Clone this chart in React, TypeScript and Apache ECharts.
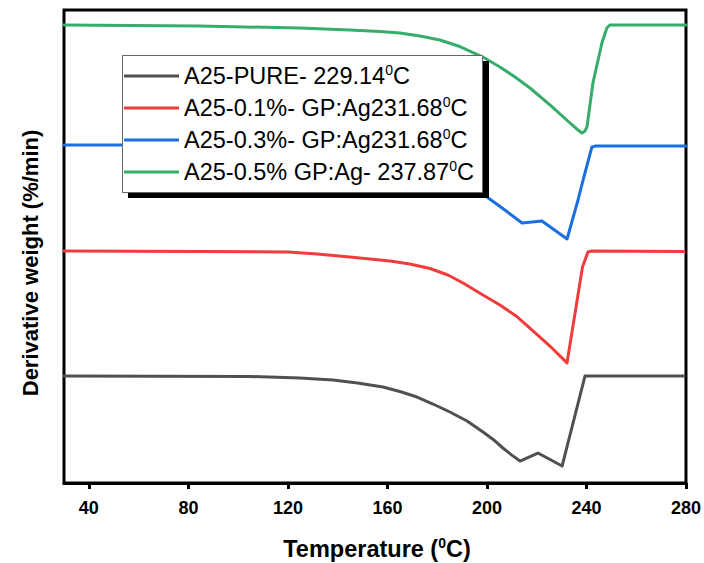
import React, { useEffect, useRef } from "react";
import * as echarts from "echarts";

// x ticks / labels
const xTicks = [40, 80, 120, 160, 200, 240, 280];

// legend names (followed by a superscript 0 and C)
const seriesNames = [
  "A25-PURE- 229.14",
  "A25-0.1%- GP:Ag231.68",
  "A25-0.3%- GP:Ag231.68",
  "A25-0.5% GP:Ag- 237.87",
];
const seriesColors = ["#505050", "#f23c3c", "#1b6fe0", "#36ad6a"];

// A25-PURE
const pureT = [30, 104.7, 124.8, 138.1, 148.0, 158.2, 165.0, 171.9, 178.3, 185.1, 192.0, 198.4, 202.5, 206.4, 210.0, 213.3, 220.5, 230.2, 239.4, 279.2];
const pureV = [22.62, 22.52, 22.2, 21.78, 21.15, 20.3, 19.35, 18.18, 16.7, 15.01, 13.11, 10.78, 9.2, 7.4, 5.9, 4.65, 6.34, 3.59, 22.62, 22.62];

// A25-0.1%
const p01T = [30, 84.6, 120, 131.7, 144.9, 161.0, 169.0, 177.1, 184.3, 190.4, 198.4, 205.2, 211.7, 218.5, 225.3, 232.2, 238.4, 240.6, 242.2, 279.2];
const p01V = [49.05, 48.94, 48.84, 48.41, 47.78, 46.93, 46.3, 45.35, 43.97, 42.28, 39.75, 37.63, 35.31, 32.14, 28.96, 25.4, 45.67, 48.84, 49.05, 48.94];

// A25-0.3%
const p03T = [30, 60, 100, 120, 140, 160, 175, 190, 200.0, 207.2, 214.1, 222.1, 232.2, 236.6, 238.6, 242.2, 243.8, 280];
const p03V = [71.46, 71.46, 71.4, 71.25, 70.8, 70.0, 68.3, 64.7, 60.46, 57.72, 54.97, 55.39, 51.59, 59.83, 64.0, 71.04, 71.25, 71.25];

// A25-0.5%
const p05T = [30, 84.6, 124.8, 144.9, 157.0, 165.0, 173.1, 181.1, 189.1, 198.4, 205.2, 211.3, 217.3, 225.3, 233.4, 236.6, 238.2, 239.4, 240.2, 242.6, 246.2, 248.2, 249.4, 280];
const p05V = [96.83, 96.62, 96.19, 95.77, 95.45, 95.14, 94.5, 93.66, 92.28, 90.06, 87.95, 85.84, 83.51, 79.92, 76.11, 74.63, 73.99, 74.42, 75.26, 84.57, 93.02, 96.19, 96.83, 96.83];

const seriesT = [pureT, p01T, p03T, p05T];
const seriesV = [pureV, p01V, p03V, p05V];

const FONT = '"Liberation Sans", Arial, Helvetica, sans-serif';

export default function App() {
  const ref = useRef<HTMLDivElement>(null);
  useEffect(() => {
    document.body.style.margin = "0";
    const chart = echarts.init(ref.current!, null, { renderer: "svg" });
    const option: any = {
      animation: false,
      backgroundColor: "#fff",
      grid: {
        left: 64,
        right: 16,
        top: 10,
        bottom: 80,
        show: true,
        borderColor: "#000",
        borderWidth: 3,
        backgroundColor: "transparent",
      },
      xAxis: {
        type: "value",
        min: 30,
        max: 280,
        axisLine: { show: true, lineStyle: { color: "#000", width: 3 } },
        axisTick: {
          show: true,
          customValues: xTicks,
          length: 6,
          lineStyle: { color: "#000", width: 3 },
        },
        axisLabel: {
          customValues: xTicks,
          fontSize: 18,
          fontWeight: "bold",
          color: "#000",
          fontFamily: FONT,
          margin: 16,
        },
        splitLine: { show: false },
      },
      yAxis: {
        type: "value",
        min: 0,
        max: 100,
        axisLine: { show: false },
        axisTick: { show: false },
        axisLabel: { show: false },
        splitLine: { show: false },
      },
      legend: {
        z: 10,
        left: 124,
        top: 63,
        orient: "vertical",
        padding: 0,
        icon: "rect",
        itemWidth: 55,
        itemHeight: 3,
        itemGap: 7,
        selectedMode: false,
        data: seriesNames,
        formatter: (name: string) => `{t|${name}}{s|0}{t|C}`,
        textStyle: {
          color: "#000",
          fontFamily: FONT,
          rich: {
            t: { fontSize: 23.5, lineHeight: 26, color: "#000", fontFamily: FONT },
            s: { fontSize: 14, lineHeight: 15, verticalAlign: "top", color: "#000", fontFamily: FONT },
          },
        },
      },
      graphic: [
        {
          type: "rect",
          z: 5,
          shape: { x: 128, y: 61, width: 361, height: 137 },
          style: { fill: "#000" },
        },
        {
          type: "rect",
          z: 6,
          shape: { x: 122.5, y: 55.5, width: 360, height: 137 },
          style: { fill: "#fff", stroke: "#666", lineWidth: 1 },
        },
        {
          type: "text",
          z: 6,
          x: 377,
          y: 549,
          style: {
            text: "{b|Temperature (}{s|0}{b|C)}",
            align: "center",
            verticalAlign: "middle",
            rich: {
              b: { fontSize: 23.5, fontWeight: "bold", lineHeight: 26, fill: "#000", fontFamily: FONT },
              s: { fontSize: 14, fontWeight: "bold", lineHeight: 16, verticalAlign: "top", fill: "#000", fontFamily: FONT },
            },
          },
        },
        {
          type: "text",
          z: 6,
          x: 30,
          y: 263,
          rotation: Math.PI / 2,
          style: {
            text: "Derivative weight (%/min)",
            font: `bold 22px ${FONT}`,
            fill: "#000",
            align: "center",
            verticalAlign: "middle",
          },
        },
      ],
      series: seriesNames.map((name, i) => ({
        name,
        type: "line",
        showSymbol: false,
        symbol: "none",
        smooth: false,
        z: 2,
        lineStyle: { color: seriesColors[i], width: 3, join: "round", cap: "round" },
        itemStyle: { color: seriesColors[i] },
        data: seriesT[i].map((t, j) => [t, seriesV[i][j]]),
      })),
    };
    chart.setOption(option);
    return () => chart.dispose();
  }, []);
  return (
    <div
      ref={ref}
      style={{ position: "absolute", left: 0, top: 0, width: 704, height: 563 }}
    />
  );
}
